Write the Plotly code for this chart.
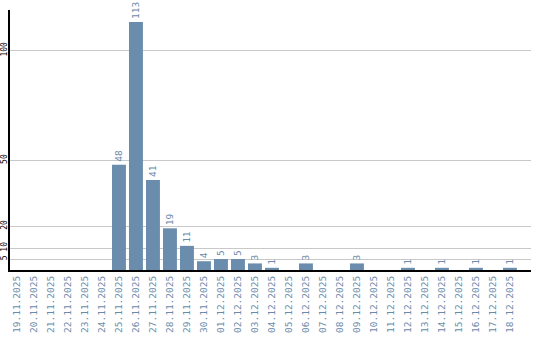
import plotly.graph_objects as go

dates = ["19.11.2025", "20.11.2025", "21.11.2025", "22.11.2025", "23.11.2025",
         "24.11.2025", "25.11.2025", "26.11.2025", "27.11.2025", "28.11.2025",
         "29.11.2025", "30.11.2025", "01.12.2025", "02.12.2025", "03.12.2025",
         "04.12.2025", "05.12.2025", "06.12.2025", "07.12.2025", "08.12.2025",
         "09.12.2025", "10.12.2025", "11.12.2025", "12.12.2025", "13.12.2025",
         "14.12.2025", "15.12.2025", "16.12.2025", "17.12.2025", "18.12.2025"]
counts = [0, 0, 0, 0, 0, 0, 48, 113, 41, 19, 11, 4, 5, 5, 3, 1, 0, 3, 0, 0,
          3, 0, 0, 1, 0, 1, 0, 1, 0, 1]
y_ticks = [5, 10, 20, 50, 100]

bar_color = "#6a8cad"
text_color = "#6a8aaa"
mono = "DejaVu Sans Mono"

labels = [str(v) if v > 0 else "" for v in counts]

fig = go.Figure(go.Bar(
    x=dates, y=counts, text=labels, textposition="outside", textangle=-90,
    textfont=dict(family=mono, size=9.5, color=text_color),
    marker=dict(color=bar_color, line=dict(width=0)),
    cliponaxis=False, constraintext="none", width=0.82,
))

fig.update_layout(
    width=540, height=340,
    margin=dict(l=10, r=9, t=10, b=70),
    plot_bgcolor="white", paper_bgcolor="white",
    showlegend=False,
)
fig.update_xaxes(
    type="category", range=[-0.41, 30.24], tickangle=-90,
    tickfont=dict(family=mono, size=9.5, color=text_color),
    showline=True, linecolor="black", linewidth=2, showgrid=False,
    ticks="", automargin=False,
)
fig.update_yaxes(
    range=[0, 118.5], tickvals=y_ticks, ticktext=[str(v) for v in y_ticks],
    tickangle=-90, tickfont=dict(family=mono, size=8, color="black"),
    ticklabelstandoff=-2,
    showline=True, linecolor="black", linewidth=2,
    showgrid=True, gridcolor="#c8c8c8", gridwidth=1, zeroline=False,
    ticks="", automargin=False,
)
fig.write_html("out.html")
